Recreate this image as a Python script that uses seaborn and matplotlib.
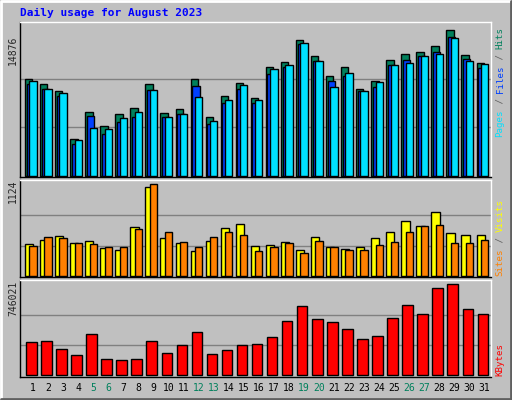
import numpy as np
import pandas as pd
import matplotlib
matplotlib.use("Agg")
import matplotlib.pyplot as plt
import seaborn as sns

days = list(range(1, 32))
weekend = [5, 6, 12, 13, 19, 20, 26, 27]
hits = [9906, 9399, 8689, 3821, 6559, 5139, 6356, 6965, 9399, 6458, 6863, 9906, 6052, 8182, 9501, 7979,
        11123, 11631, 13862, 12239, 10211, 11123, 8892, 9703, 11834, 12442, 12645, 13287, 14876, 12341, 11529]
files = [9399, 8892, 8182, 3212, 6153, 4260, 5545, 6052, 8791, 6052, 6356, 9196, 5342, 7472, 8892, 7472,
         10413, 11123, 13456, 11732, 9703, 10211, 8689, 9095, 11326, 11834, 12239, 12645, 14166, 11935, 11022]
pages = [9703, 8892, 8486, 3618, 4936, 4835, 5951, 6559, 8791, 6052, 6356, 8080, 5646, 7776, 9298, 7776,
         10921, 11326, 13558, 11732, 9095, 10515, 8689, 9602, 11326, 11529, 12239, 12442, 14065, 11732, 11428]
visits = [390, 438, 487, 402, 426, 341, 317, 597, 1083, 463, 402, 304, 426, 584, 633, 365, 377, 414, 317,
          475, 353, 329, 353, 463, 536, 670, 609, 779, 523, 499, 499]
sites = [365, 475, 463, 402, 390, 353, 353, 572, 1124, 536, 414, 353, 475, 536, 499, 304, 353, 402, 280,
         426, 353, 317, 317, 377, 414, 536, 609, 621, 402, 402, 438]
kbytes = [270537, 278735, 213151, 163962, 338855, 131170, 122972, 131170, 278735, 180358, 245943, 352518,
          172160, 204953, 245943, 254141, 311528, 442697, 565669, 459093, 434499, 377113, 295132, 319726,
          467291, 573867, 500084, 713229, 746021, 541075, 500084]

BG = "#C0C0C0"
C_HITS, C_FILES, C_PAGES = "#00805C", "#0040FF", "#00E0FF"
C_VIS, C_SITES, C_KB = "#FFFF00", "#FF8000", "#FF0000"

sns.set_theme(style="white")
plt.rcParams["font.family"] = ["DejaVu Sans Mono"]
fig = plt.figure(figsize=(5.12, 4.0), dpi=100, facecolor=BG)

W, H = 512, 400
def ax_at(x0, y0, x1, y1):
    return fig.add_axes([x0 / W, 1 - y1 / H, (x1 - x0) / W, (y1 - y0) / H])

ax1 = ax_at(20, 22, 491, 177)
ax2 = ax_at(20, 180, 491, 277)
ax3 = ax_at(20, 280, 491, 377)

d = np.array(days, dtype=float)

def bars(ax, vals, off, width, color):
    x = d + off + width / 2
    df = pd.DataFrame({"x": x, "v": vals})
    sns.barplot(data=df, x="x", y="v", native_scale=True, width=width, color=color,
                edgecolor="black", linewidth=1.0, saturation=1, ax=ax, errorbar=None)

bars(ax1, hits, 0.0, 0.49, C_HITS)
bars(ax1, files, 0.11, 0.49, C_FILES)
bars(ax1, pages, 0.29, 0.49, C_PAGES)
bars(ax2, visits, 0.0, 0.55, C_VIS)
bars(ax2, sites, 0.29, 0.49, C_SITES)
bars(ax3, kbytes, 0.07, 0.70, C_KB)

xl = (1 - 5 / 15.05, 1 - 5 / 15.05 + 471 / 15.05)
for ax, mx, lo, hi in [(ax1, max(hits), -100, 15686), (ax2, max(sites), -9, 1173),
                       (ax3, max(kbytes), -13900, 781300)]:
    ax.set_facecolor(BG)
    ax.set_xlim(*xl)
    ax.set_ylim(lo, hi)
    for f in (1 / 3, 2 / 3):
        ax.axhline(mx * f, color="#808080", lw=1, zorder=0)
    ax.set_xticks([]); ax.set_yticks([])
    ax.set_xlabel(""); ax.set_ylabel("")
    for s, c in [("left", "black"), ("top", "white"), ("right", "white"), ("bottom", "black")]:
        ax.spines[s].set_visible(True)
        ax.spines[s].set_color(c)
        ax.spines[s].set_linewidth(1)

fig.text(20 / W, 1 - 13 / H, "Daily usage for August 2023", color="#0000FF", fontsize=8,
         fontweight="bold", va="center", ha="left")

for day in days:
    fig.text((20 + 5 + (day - 1) * 15.05 + 8) / W, 1 - 388 / H, str(day), fontsize=7,
             color=C_HITS if day in weekend else "black", ha="center", va="center")

for lab, yc in [("14876", 50), ("1124", 191), ("746021", 298)]:
    fig.text(13 / W, 1 - yc / H, lab, rotation=90, fontsize=7, ha="center", va="center")

FS = 6.6
STEP = 0.602 * FS * 100 / 72

def vlabel(y_bottom, parts):
    i = 0
    for txt, col in parts:
        fig.text(500 / W, 1 - (y_bottom - i * STEP) / H, txt, rotation=90, color=col,
                 fontsize=FS, ha="center", va="bottom")
        i += len(txt)

vlabel(137, [("Pages", C_PAGES), (" / ", "#606060"), ("Files", C_FILES), (" / ", "#606060"), ("Hits", C_HITS)])
vlabel(276, [("Sites", C_SITES), (" / ", "#606060"), ("Visits", C_VIS)])
vlabel(376, [("KBytes", C_KB)])

bd = fig.add_axes([0, 0, 1, 1], zorder=-1)
bd.set_xlim(0, W); bd.set_ylim(H, 0); bd.axis("off")
bd.plot([1, 1, W - 1], [H - 1, 1, 1], color="white", lw=2)
bd.plot([1, W - 1, W - 1], [H - 1, H - 1, 1], color="#606060", lw=2)

fig.savefig("out.png", dpi=100, facecolor=BG)
